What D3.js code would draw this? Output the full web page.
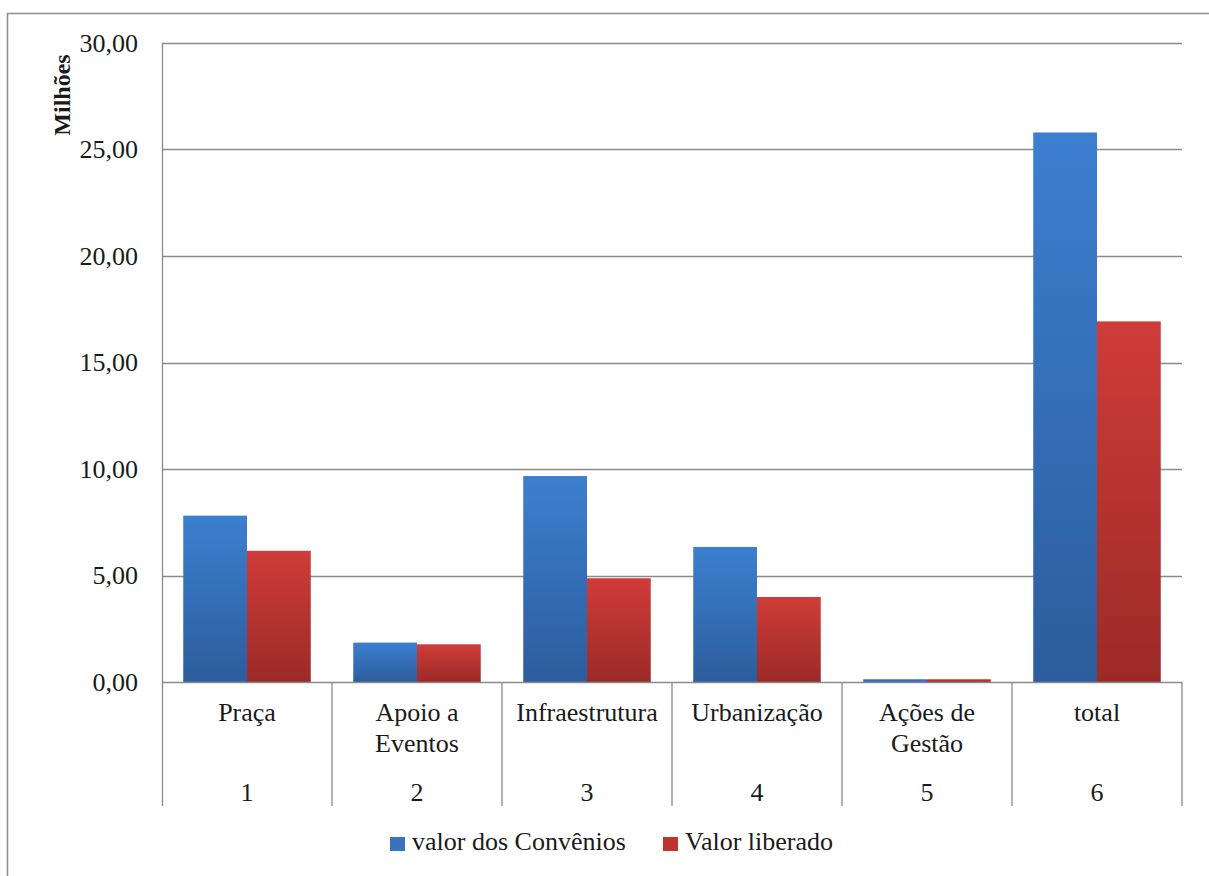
<!DOCTYPE html>
<html>
<head>
<meta charset="utf-8">
<script src="https://cdn.jsdelivr.net/npm/d3@7"></script>
<style>
  body { margin: 0; background: #fff; }
  svg { display: block; }
</style>
</head>
<body>
<div id="chart"></div>
<script>
// data (valores em milhões)
const categories = ['Praça', 'Apoio a|Eventos', 'Infraestrutura', 'Urbanização', 'Ações de|Gestão', 'total'];
const numbers = ['1', '2', '3', '4', '5', '6'];
const valorConvenios = [7.81, 1.85, 9.67, 6.34, 0.13, 25.8];
const valorLiberado = [6.16, 1.77, 4.87, 3.99, 0.13, 16.93];
const seriesNames = ['valor dos Convênios', 'Valor liberado'];
const yTicks = [0, 5, 10, 15, 20, 25, 30];

const width = 1209;
const height = 876;
const plotLeft = 162, plotRight = 1182, plotTop = 43, plotBottom = 682, sepBottom = 806;
const fontFamily = '"Liberation Serif", "Times New Roman", serif';
const fontSize = 26;
const textColor = '#1a1a1a';

const svg = d3.select('#chart').append('svg')
  .attr('width', width)
  .attr('height', height)
  .style('font-family', fontFamily);

// outer frame (runs off the right and bottom edge)
svg.append('rect')
  .attr('x', 7.5).attr('y', 13.5)
  .attr('width', width + 10).attr('height', height + 10)
  .attr('fill', '#fff')
  .attr('stroke', '#8c8c8c')
  .attr('stroke-width', 1.5);

const defs = svg.append('defs');
const gradients = [
  { id: 'grad-blue', top: '#3c7fd0', bottom: '#2c5d9c' },
  { id: 'grad-red', top: '#d03c38', bottom: '#9b2a27' }
];
gradients.forEach(g => {
  let lg = defs.append('linearGradient')
    .attr('id', g.id)
    .attr('x1', 0).attr('y1', 0).attr('x2', 0).attr('y2', 1);
  lg.append('stop').attr('offset', '0%').attr('stop-color', g.top);
  lg.append('stop').attr('offset', '100%').attr('stop-color', g.bottom);
});

const scaleY = d3.scaleLinear().domain([0, 30]).range([plotBottom, plotTop]);
const scaleX = d3.scaleBand().domain(d3.range(categories.length)).range([plotLeft, plotRight]);
const bandwidth = scaleX.bandwidth();
const groupPad = bandwidth * 0.125;
const barWidth = (bandwidth - groupPad * 2) / 2;

// gridlines
svg.append('g')
  .selectAll('line')
  .data(yTicks.filter(d => d > 0))
  .enter().append('line')
  .attr('x1', plotLeft).attr('x2', plotRight)
  .attr('y1', d => Math.round(scaleY(d)) + 0.5)
  .attr('y2', d => Math.round(scaleY(d)) + 0.5)
  .attr('stroke', '#8a8a8a')
  .attr('stroke-width', 1.3);

// y axis
const yAxis = d3.axisLeft(scaleY)
  .tickValues(yTicks)
  .tickSize(0)
  .tickPadding(24)
  .tickFormat(d => d3.format('.2f')(d).replace('.', ','));
svg.append('g')
  .attr('transform', `translate(${plotLeft},0)`)
  .call(yAxis)
  .call(g => g.select('.domain').remove())
  .call(g => g.attr('font-family', null).attr('font-size', null))
  .selectAll('text')
  .style('font-family', fontFamily)
  .style('font-size', fontSize + 'px')
  .attr('fill', textColor);

svg.append('line')
  .attr('x1', plotLeft + 0.5).attr('x2', plotLeft + 0.5)
  .attr('y1', plotTop).attr('y2', sepBottom)
  .attr('stroke', '#8a8a8a').attr('stroke-width', 1.3);

svg.append('text')
  .attr('transform', 'translate(70,95) rotate(-90)')
  .attr('text-anchor', 'middle')
  .style('font-family', fontFamily)
  .style('font-size', '24px')
  .style('font-weight', 'bold')
  .attr('fill', textColor)
  .text('Milhões');

// bars
const series = [valorConvenios, valorLiberado];
const fills = ['url(#grad-blue)', 'url(#grad-red)'];
series.forEach((values, num) => {
  svg.append('g')
    .attr('class', `bars-${num}`)
    .selectAll('rect')
    .data(values)
    .enter().append('rect')
    .attr('class', 'bar')
    .attr('x', (d, i) => scaleX(i) + groupPad + num * barWidth)
    .attr('y', d => scaleY(d))
    .attr('width', barWidth)
    .attr('height', d => scaleY(0) - scaleY(d))
    .attr('fill', fills[num]);
});

// baseline and category separators
svg.append('line')
  .attr('x1', plotLeft).attr('x2', plotRight)
  .attr('y1', plotBottom + 0.5).attr('y2', plotBottom + 0.5)
  .attr('stroke', '#8a8a8a').attr('stroke-width', 1.3);

svg.append('g')
  .selectAll('line')
  .data(d3.range(1, categories.length + 1))
  .enter().append('line')
  .attr('x1', i => i < categories.length ? scaleX(i) : plotRight)
  .attr('x2', i => i < categories.length ? scaleX(i) : plotRight)
  .attr('y1', plotBottom)
  .attr('y2', sepBottom)
  .attr('stroke', '#8a8a8a').attr('stroke-width', 1.3);

// category labels
const catLabels = svg.append('g').selectAll('text')
  .data(categories)
  .enter().append('text')
  .attr('text-anchor', 'middle')
  .style('font-family', fontFamily)
  .style('font-size', fontSize + 'px')
  .attr('fill', textColor)
  .attr('x', (d, i) => scaleX(i) + bandwidth / 2)
  .attr('y', 721);
catLabels.each(function (d) {
  let lines = d.split('|');
  let t = d3.select(this);
  lines.forEach((line, k) => {
    t.append('tspan')
      .attr('x', t.attr('x'))
      .attr('dy', k === 0 ? 0 : 31)
      .text(line);
  });
});

svg.append('g').selectAll('text')
  .data(numbers)
  .enter().append('text')
  .attr('text-anchor', 'middle')
  .style('font-family', fontFamily)
  .style('font-size', fontSize + 'px')
  .attr('fill', textColor)
  .attr('x', (d, i) => scaleX(i) + bandwidth / 2)
  .attr('y', 801)
  .text(d => d);

// legend
const legendItems = [
  { name: seriesNames[0], color: '#3a72c0', x: 390 },
  { name: seriesNames[1], color: '#c0342f', x: 663 }
];
const legend = svg.append('g').attr('class', 'legend');
legendItems.forEach(item => {
  legend.append('rect')
    .attr('x', item.x).attr('y', 837)
    .attr('width', 15).attr('height', 14)
    .attr('fill', item.color);
  legend.append('text')
    .attr('x', item.x + 22)
    .attr('y', 850)
    .style('font-family', fontFamily)
    .style('font-size', fontSize + 'px')
    .attr('fill', textColor)
    .text(item.name);
});
</script>
</body>
</html>
